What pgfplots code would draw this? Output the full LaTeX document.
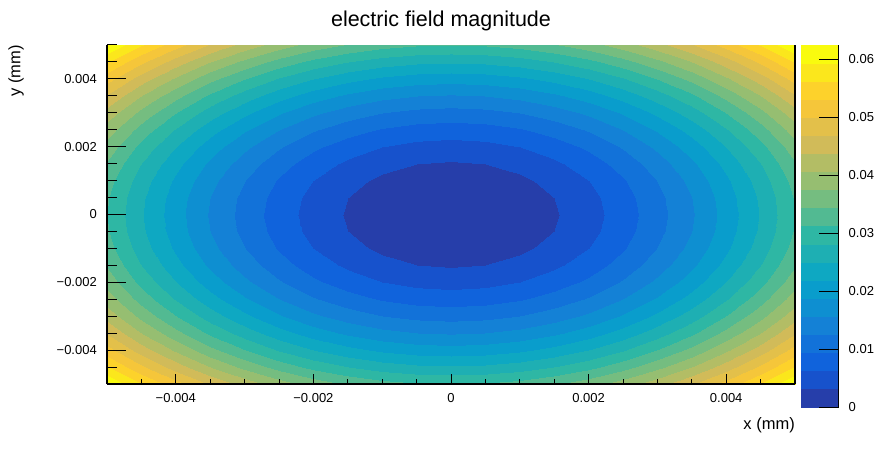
\documentclass[border=0pt]{standalone}
\usepackage{fontspec}
\setmainfont{Liberation Sans}
\usepackage{pgfplots}
\usepackage{pgfplotstable}
\pgfplotsset{compat=1.18}
\pgfplotsset{
  colormap={rootbird}{
    rgb=(0.1486,0.2438,0.6649)
    rgb=(0.0890,0.3212,0.8006)
    rgb=(0.0630,0.3887,0.8624)
    rgb=(0.0705,0.4464,0.8505)
    rgb=(0.0780,0.5041,0.8385)
    rgb=(0.0561,0.5592,0.8197)
    rgb=(0.0342,0.6143,0.8008)
    rgb=(0.0546,0.6571,0.7616)
    rgb=(0.1174,0.6874,0.7021)
    rgb=(0.1802,0.7178,0.6425)
    rgb=(0.3202,0.7304,0.5720)
    rgb=(0.4601,0.7429,0.5015)
    rgb=(0.5878,0.7459,0.4429)
    rgb=(0.7032,0.7394,0.3964)
    rgb=(0.8186,0.7328,0.3499)
    rgb=(0.8894,0.7542,0.2887)
    rgb=(0.9602,0.7755,0.2274)
    rgb=(0.9918,0.8256,0.1682)
    rgb=(0.9841,0.9044,0.1111)
    rgb=(0.9764,0.9832,0.0539)
  }
}
\pgfplotstableread{
x y z
-0.005 -0.005 0.0625
-0.0045 -0.005 0.0565625
-0.004 -0.005 0.05125
-0.0035 -0.005 0.0465625
-0.003 -0.005 0.0425
-0.0025 -0.005 0.0390625
-0.002 -0.005 0.03625
-0.0015 -0.005 0.0340625
-0.001 -0.005 0.0325
-0.0005 -0.005 0.0315625
0 -0.005 0.03125
0.0005 -0.005 0.0315625
0.001 -0.005 0.0325
0.0015 -0.005 0.0340625
0.002 -0.005 0.03625
0.0025 -0.005 0.0390625
0.003 -0.005 0.0425
0.0035 -0.005 0.0465625
0.004 -0.005 0.05125
0.0045 -0.005 0.0565625
0.005 -0.005 0.0625
-0.005 -0.0045 0.0565625
-0.0045 -0.0045 0.050625
-0.004 -0.0045 0.0453125
-0.0035 -0.0045 0.040625
-0.003 -0.0045 0.0365625
-0.0025 -0.0045 0.033125
-0.002 -0.0045 0.0303125
-0.0015 -0.0045 0.028125
-0.001 -0.0045 0.0265625
-0.0005 -0.0045 0.025625
0 -0.0045 0.0253125
0.0005 -0.0045 0.025625
0.001 -0.0045 0.0265625
0.0015 -0.0045 0.028125
0.002 -0.0045 0.0303125
0.0025 -0.0045 0.033125
0.003 -0.0045 0.0365625
0.0035 -0.0045 0.040625
0.004 -0.0045 0.0453125
0.0045 -0.0045 0.050625
0.005 -0.0045 0.0565625
-0.005 -0.004 0.05125
-0.0045 -0.004 0.0453125
-0.004 -0.004 0.04
-0.0035 -0.004 0.0353125
-0.003 -0.004 0.03125
-0.0025 -0.004 0.0278125
-0.002 -0.004 0.025
-0.0015 -0.004 0.0228125
-0.001 -0.004 0.02125
-0.0005 -0.004 0.0203125
0 -0.004 0.02
0.0005 -0.004 0.0203125
0.001 -0.004 0.02125
0.0015 -0.004 0.0228125
0.002 -0.004 0.025
0.0025 -0.004 0.0278125
0.003 -0.004 0.03125
0.0035 -0.004 0.0353125
0.004 -0.004 0.04
0.0045 -0.004 0.0453125
0.005 -0.004 0.05125
-0.005 -0.0035 0.0465625
-0.0045 -0.0035 0.040625
-0.004 -0.0035 0.0353125
-0.0035 -0.0035 0.030625
-0.003 -0.0035 0.0265625
-0.0025 -0.0035 0.023125
-0.002 -0.0035 0.0203125
-0.0015 -0.0035 0.018125
-0.001 -0.0035 0.0165625
-0.0005 -0.0035 0.015625
0 -0.0035 0.0153125
0.0005 -0.0035 0.015625
0.001 -0.0035 0.0165625
0.0015 -0.0035 0.018125
0.002 -0.0035 0.0203125
0.0025 -0.0035 0.023125
0.003 -0.0035 0.0265625
0.0035 -0.0035 0.030625
0.004 -0.0035 0.0353125
0.0045 -0.0035 0.040625
0.005 -0.0035 0.0465625
-0.005 -0.003 0.0425
-0.0045 -0.003 0.0365625
-0.004 -0.003 0.03125
-0.0035 -0.003 0.0265625
-0.003 -0.003 0.0225
-0.0025 -0.003 0.0190625
-0.002 -0.003 0.01625
-0.0015 -0.003 0.0140625
-0.001 -0.003 0.0125
-0.0005 -0.003 0.0115625
0 -0.003 0.01125
0.0005 -0.003 0.0115625
0.001 -0.003 0.0125
0.0015 -0.003 0.0140625
0.002 -0.003 0.01625
0.0025 -0.003 0.0190625
0.003 -0.003 0.0225
0.0035 -0.003 0.0265625
0.004 -0.003 0.03125
0.0045 -0.003 0.0365625
0.005 -0.003 0.0425
-0.005 -0.0025 0.0390625
-0.0045 -0.0025 0.033125
-0.004 -0.0025 0.0278125
-0.0035 -0.0025 0.023125
-0.003 -0.0025 0.0190625
-0.0025 -0.0025 0.015625
-0.002 -0.0025 0.0128125
-0.0015 -0.0025 0.010625
-0.001 -0.0025 0.0090625
-0.0005 -0.0025 0.008125
0 -0.0025 0.0078125
0.0005 -0.0025 0.008125
0.001 -0.0025 0.0090625
0.0015 -0.0025 0.010625
0.002 -0.0025 0.0128125
0.0025 -0.0025 0.015625
0.003 -0.0025 0.0190625
0.0035 -0.0025 0.023125
0.004 -0.0025 0.0278125
0.0045 -0.0025 0.033125
0.005 -0.0025 0.0390625
-0.005 -0.002 0.03625
-0.0045 -0.002 0.0303125
-0.004 -0.002 0.025
-0.0035 -0.002 0.0203125
-0.003 -0.002 0.01625
-0.0025 -0.002 0.0128125
-0.002 -0.002 0.01
-0.0015 -0.002 0.0078125
-0.001 -0.002 0.00625
-0.0005 -0.002 0.0053125
0 -0.002 0.005
0.0005 -0.002 0.0053125
0.001 -0.002 0.00625
0.0015 -0.002 0.0078125
0.002 -0.002 0.01
0.0025 -0.002 0.0128125
0.003 -0.002 0.01625
0.0035 -0.002 0.0203125
0.004 -0.002 0.025
0.0045 -0.002 0.0303125
0.005 -0.002 0.03625
-0.005 -0.0015 0.0340625
-0.0045 -0.0015 0.028125
-0.004 -0.0015 0.0228125
-0.0035 -0.0015 0.018125
-0.003 -0.0015 0.0140625
-0.0025 -0.0015 0.010625
-0.002 -0.0015 0.0078125
-0.0015 -0.0015 0.005625
-0.001 -0.0015 0.0040625
-0.0005 -0.0015 0.003125
0 -0.0015 0.0028125
0.0005 -0.0015 0.003125
0.001 -0.0015 0.0040625
0.0015 -0.0015 0.005625
0.002 -0.0015 0.0078125
0.0025 -0.0015 0.010625
0.003 -0.0015 0.0140625
0.0035 -0.0015 0.018125
0.004 -0.0015 0.0228125
0.0045 -0.0015 0.028125
0.005 -0.0015 0.0340625
-0.005 -0.001 0.0325
-0.0045 -0.001 0.0265625
-0.004 -0.001 0.02125
-0.0035 -0.001 0.0165625
-0.003 -0.001 0.0125
-0.0025 -0.001 0.0090625
-0.002 -0.001 0.00625
-0.0015 -0.001 0.0040625
-0.001 -0.001 0.0025
-0.0005 -0.001 0.0015625
0 -0.001 0.00125
0.0005 -0.001 0.0015625
0.001 -0.001 0.0025
0.0015 -0.001 0.0040625
0.002 -0.001 0.00625
0.0025 -0.001 0.0090625
0.003 -0.001 0.0125
0.0035 -0.001 0.0165625
0.004 -0.001 0.02125
0.0045 -0.001 0.0265625
0.005 -0.001 0.0325
-0.005 -0.0005 0.0315625
-0.0045 -0.0005 0.025625
-0.004 -0.0005 0.0203125
-0.0035 -0.0005 0.015625
-0.003 -0.0005 0.0115625
-0.0025 -0.0005 0.008125
-0.002 -0.0005 0.0053125
-0.0015 -0.0005 0.003125
-0.001 -0.0005 0.0015625
-0.0005 -0.0005 0.000625
0 -0.0005 0.0003125
0.0005 -0.0005 0.000625
0.001 -0.0005 0.0015625
0.0015 -0.0005 0.003125
0.002 -0.0005 0.0053125
0.0025 -0.0005 0.008125
0.003 -0.0005 0.0115625
0.0035 -0.0005 0.015625
0.004 -0.0005 0.0203125
0.0045 -0.0005 0.025625
0.005 -0.0005 0.0315625
-0.005 0 0.03125
-0.0045 0 0.0253125
-0.004 0 0.02
-0.0035 0 0.0153125
-0.003 0 0.01125
-0.0025 0 0.0078125
-0.002 0 0.005
-0.0015 0 0.0028125
-0.001 0 0.00125
-0.0005 0 0.0003125
0 0 0
0.0005 0 0.0003125
0.001 0 0.00125
0.0015 0 0.0028125
0.002 0 0.005
0.0025 0 0.0078125
0.003 0 0.01125
0.0035 0 0.0153125
0.004 0 0.02
0.0045 0 0.0253125
0.005 0 0.03125
-0.005 0.0005 0.0315625
-0.0045 0.0005 0.025625
-0.004 0.0005 0.0203125
-0.0035 0.0005 0.015625
-0.003 0.0005 0.0115625
-0.0025 0.0005 0.008125
-0.002 0.0005 0.0053125
-0.0015 0.0005 0.003125
-0.001 0.0005 0.0015625
-0.0005 0.0005 0.000625
0 0.0005 0.0003125
0.0005 0.0005 0.000625
0.001 0.0005 0.0015625
0.0015 0.0005 0.003125
0.002 0.0005 0.0053125
0.0025 0.0005 0.008125
0.003 0.0005 0.0115625
0.0035 0.0005 0.015625
0.004 0.0005 0.0203125
0.0045 0.0005 0.025625
0.005 0.0005 0.0315625
-0.005 0.001 0.0325
-0.0045 0.001 0.0265625
-0.004 0.001 0.02125
-0.0035 0.001 0.0165625
-0.003 0.001 0.0125
-0.0025 0.001 0.0090625
-0.002 0.001 0.00625
-0.0015 0.001 0.0040625
-0.001 0.001 0.0025
-0.0005 0.001 0.0015625
0 0.001 0.00125
0.0005 0.001 0.0015625
0.001 0.001 0.0025
0.0015 0.001 0.0040625
0.002 0.001 0.00625
0.0025 0.001 0.0090625
0.003 0.001 0.0125
0.0035 0.001 0.0165625
0.004 0.001 0.02125
0.0045 0.001 0.0265625
0.005 0.001 0.0325
-0.005 0.0015 0.0340625
-0.0045 0.0015 0.028125
-0.004 0.0015 0.0228125
-0.0035 0.0015 0.018125
-0.003 0.0015 0.0140625
-0.0025 0.0015 0.010625
-0.002 0.0015 0.0078125
-0.0015 0.0015 0.005625
-0.001 0.0015 0.0040625
-0.0005 0.0015 0.003125
0 0.0015 0.0028125
0.0005 0.0015 0.003125
0.001 0.0015 0.0040625
0.0015 0.0015 0.005625
0.002 0.0015 0.0078125
0.0025 0.0015 0.010625
0.003 0.0015 0.0140625
0.0035 0.0015 0.018125
0.004 0.0015 0.0228125
0.0045 0.0015 0.028125
0.005 0.0015 0.0340625
-0.005 0.002 0.03625
-0.0045 0.002 0.0303125
-0.004 0.002 0.025
-0.0035 0.002 0.0203125
-0.003 0.002 0.01625
-0.0025 0.002 0.0128125
-0.002 0.002 0.01
-0.0015 0.002 0.0078125
-0.001 0.002 0.00625
-0.0005 0.002 0.0053125
0 0.002 0.005
0.0005 0.002 0.0053125
0.001 0.002 0.00625
0.0015 0.002 0.0078125
0.002 0.002 0.01
0.0025 0.002 0.0128125
0.003 0.002 0.01625
0.0035 0.002 0.0203125
0.004 0.002 0.025
0.0045 0.002 0.0303125
0.005 0.002 0.03625
-0.005 0.0025 0.0390625
-0.0045 0.0025 0.033125
-0.004 0.0025 0.0278125
-0.0035 0.0025 0.023125
-0.003 0.0025 0.0190625
-0.0025 0.0025 0.015625
-0.002 0.0025 0.0128125
-0.0015 0.0025 0.010625
-0.001 0.0025 0.0090625
-0.0005 0.0025 0.008125
0 0.0025 0.0078125
0.0005 0.0025 0.008125
0.001 0.0025 0.0090625
0.0015 0.0025 0.010625
0.002 0.0025 0.0128125
0.0025 0.0025 0.015625
0.003 0.0025 0.0190625
0.0035 0.0025 0.023125
0.004 0.0025 0.0278125
0.0045 0.0025 0.033125
0.005 0.0025 0.0390625
-0.005 0.003 0.0425
-0.0045 0.003 0.0365625
-0.004 0.003 0.03125
-0.0035 0.003 0.0265625
-0.003 0.003 0.0225
-0.0025 0.003 0.0190625
-0.002 0.003 0.01625
-0.0015 0.003 0.0140625
-0.001 0.003 0.0125
-0.0005 0.003 0.0115625
0 0.003 0.01125
0.0005 0.003 0.0115625
0.001 0.003 0.0125
0.0015 0.003 0.0140625
0.002 0.003 0.01625
0.0025 0.003 0.0190625
0.003 0.003 0.0225
0.0035 0.003 0.0265625
0.004 0.003 0.03125
0.0045 0.003 0.0365625
0.005 0.003 0.0425
-0.005 0.0035 0.0465625
-0.0045 0.0035 0.040625
-0.004 0.0035 0.0353125
-0.0035 0.0035 0.030625
-0.003 0.0035 0.0265625
-0.0025 0.0035 0.023125
-0.002 0.0035 0.0203125
-0.0015 0.0035 0.018125
-0.001 0.0035 0.0165625
-0.0005 0.0035 0.015625
0 0.0035 0.0153125
0.0005 0.0035 0.015625
0.001 0.0035 0.0165625
0.0015 0.0035 0.018125
0.002 0.0035 0.0203125
0.0025 0.0035 0.023125
0.003 0.0035 0.0265625
0.0035 0.0035 0.030625
0.004 0.0035 0.0353125
0.0045 0.0035 0.040625
0.005 0.0035 0.0465625
-0.005 0.004 0.05125
-0.0045 0.004 0.0453125
-0.004 0.004 0.04
-0.0035 0.004 0.0353125
-0.003 0.004 0.03125
-0.0025 0.004 0.0278125
-0.002 0.004 0.025
-0.0015 0.004 0.0228125
-0.001 0.004 0.02125
-0.0005 0.004 0.0203125
0 0.004 0.02
0.0005 0.004 0.0203125
0.001 0.004 0.02125
0.0015 0.004 0.0228125
0.002 0.004 0.025
0.0025 0.004 0.0278125
0.003 0.004 0.03125
0.0035 0.004 0.0353125
0.004 0.004 0.04
0.0045 0.004 0.0453125
0.005 0.004 0.05125
-0.005 0.0045 0.0565625
-0.0045 0.0045 0.050625
-0.004 0.0045 0.0453125
-0.0035 0.0045 0.040625
-0.003 0.0045 0.0365625
-0.0025 0.0045 0.033125
-0.002 0.0045 0.0303125
-0.0015 0.0045 0.028125
-0.001 0.0045 0.0265625
-0.0005 0.0045 0.025625
0 0.0045 0.0253125
0.0005 0.0045 0.025625
0.001 0.0045 0.0265625
0.0015 0.0045 0.028125
0.002 0.0045 0.0303125
0.0025 0.0045 0.033125
0.003 0.0045 0.0365625
0.0035 0.0045 0.040625
0.004 0.0045 0.0453125
0.0045 0.0045 0.050625
0.005 0.0045 0.0565625
-0.005 0.005 0.0625
-0.0045 0.005 0.0565625
-0.004 0.005 0.05125
-0.0035 0.005 0.0465625
-0.003 0.005 0.0425
-0.0025 0.005 0.0390625
-0.002 0.005 0.03625
-0.0015 0.005 0.0340625
-0.001 0.005 0.0325
-0.0005 0.005 0.0315625
0 0.005 0.03125
0.0005 0.005 0.0315625
0.001 0.005 0.0325
0.0015 0.005 0.0340625
0.002 0.005 0.03625
0.0025 0.005 0.0390625
0.003 0.005 0.0425
0.0035 0.005 0.0465625
0.004 0.005 0.05125
0.0045 0.005 0.0565625
0.005 0.005 0.0625
}\fielddata
\begin{document}
\begin{tikzpicture}
\begin{axis}[
  at={(0,0)}, anchor=south west,
  scale only axis, width=688bp, height=339bp,
  xmin=-0.005, xmax=0.005, ymin=-0.005, ymax=0.005,
  scaled ticks=false,
  axis x line*=bottom, axis y line*=left,
  axis line style={line width=1.2bp},
  axis on top,
  tick align=inside,
  xtick={-0.004,-0.002,0,0.002,0.004},
  xticklabels={−0.004,−0.002,0,0.002,0.004},
  minor xtick={-0.005,-0.0045,-0.0035,-0.003,-0.0025,-0.0015,-0.001,-0.0005,0.0005,0.001,0.0015,0.0025,0.003,0.0035,0.0045,0.005},
  ytick=\empty,
  major tick length=10bp, minor tick length=5bp,
  every tick/.style={black, line width=1bp},
  xticklabel style={anchor=north, inner sep=0pt, yshift=-9bp, font=\fontsize{13bp}{13bp}\selectfont},
  colormap name=rootbird,
  point meta min=0, point meta max=0.0625,
  colorbar,
  colorbar style={
    at={(685bp,339bp)}, anchor=north west,
    scale only axis, width=38bp, height=362bp,
    scaled ticks=false,
    axis x line=none, axis y line*=right,
    axis line style={line width=1bp},
    tick align=inside,
    ytick={0,0.01,0.02,0.03,0.04,0.05,0.06},
    yticklabels={0,0.01,0.02,0.03,0.04,0.05,0.06},
    yticklabel pos=right,
    major tick length=20bp,
    every tick/.style={black, line width=1bp},
    yticklabel style={anchor=west, inner sep=0pt, xshift=10bp, font=\fontsize{13bp}{13bp}\selectfont},
  },
]
\addplot[contour filled={number=20}, mesh/cols=21, mesh/rows=21, point meta=\thisrow{z}]
  table[x=x, y=y] {\fielddata};
\end{axis}
\begin{axis}[
  at={(0,0)}, anchor=south west,
  scale only axis, width=688bp, height=339bp,
  xmin=-0.005, xmax=0.005, ymin=-0.005, ymax=0.005,
  scaled ticks=false,
  axis x line=none, axis y line*=left,
  axis line style={line width=1.2bp},
  tick align=inside,
  xtick=\empty,
  ytick={-0.004,-0.002,0,0.002,0.004},
  yticklabels={−0.004,−0.002,0,0.002,0.004},
  minor ytick={-0.005,-0.0045,-0.0035,-0.003,-0.0025,-0.0015,-0.001,-0.0005,0.0005,0.001,0.0015,0.0025,0.003,0.0035,0.0045,0.005},
  major tick length=19bp, minor tick length=10bp,
  every tick/.style={black, line width=1bp},
  yticklabel style={anchor=east, inner sep=0pt, xshift=-10bp, font=\fontsize{13bp}{13bp}\selectfont},
]
\end{axis}
\draw[line width=1.2bp] (688bp,0) -- (688bp,339bp);
\node[inner sep=0pt, font=\fontsize{21.5bp}{22bp}\selectfont] at (334bp,363bp) {electric field magnitude};
\node[rotate=90, anchor=east, inner sep=0pt, font=\fontsize{16.5bp}{17bp}\selectfont] at (-91bp,339bp) {y (mm)};
\node[anchor=east, inner sep=0pt, font=\fontsize{16.5bp}{17bp}\selectfont] at (688bp,-41bp) {x (mm)};
\pgfresetboundingbox
\path[use as bounding box] (-107bp,-66bp) rectangle (776bp,384bp);
\end{tikzpicture}
\end{document}
